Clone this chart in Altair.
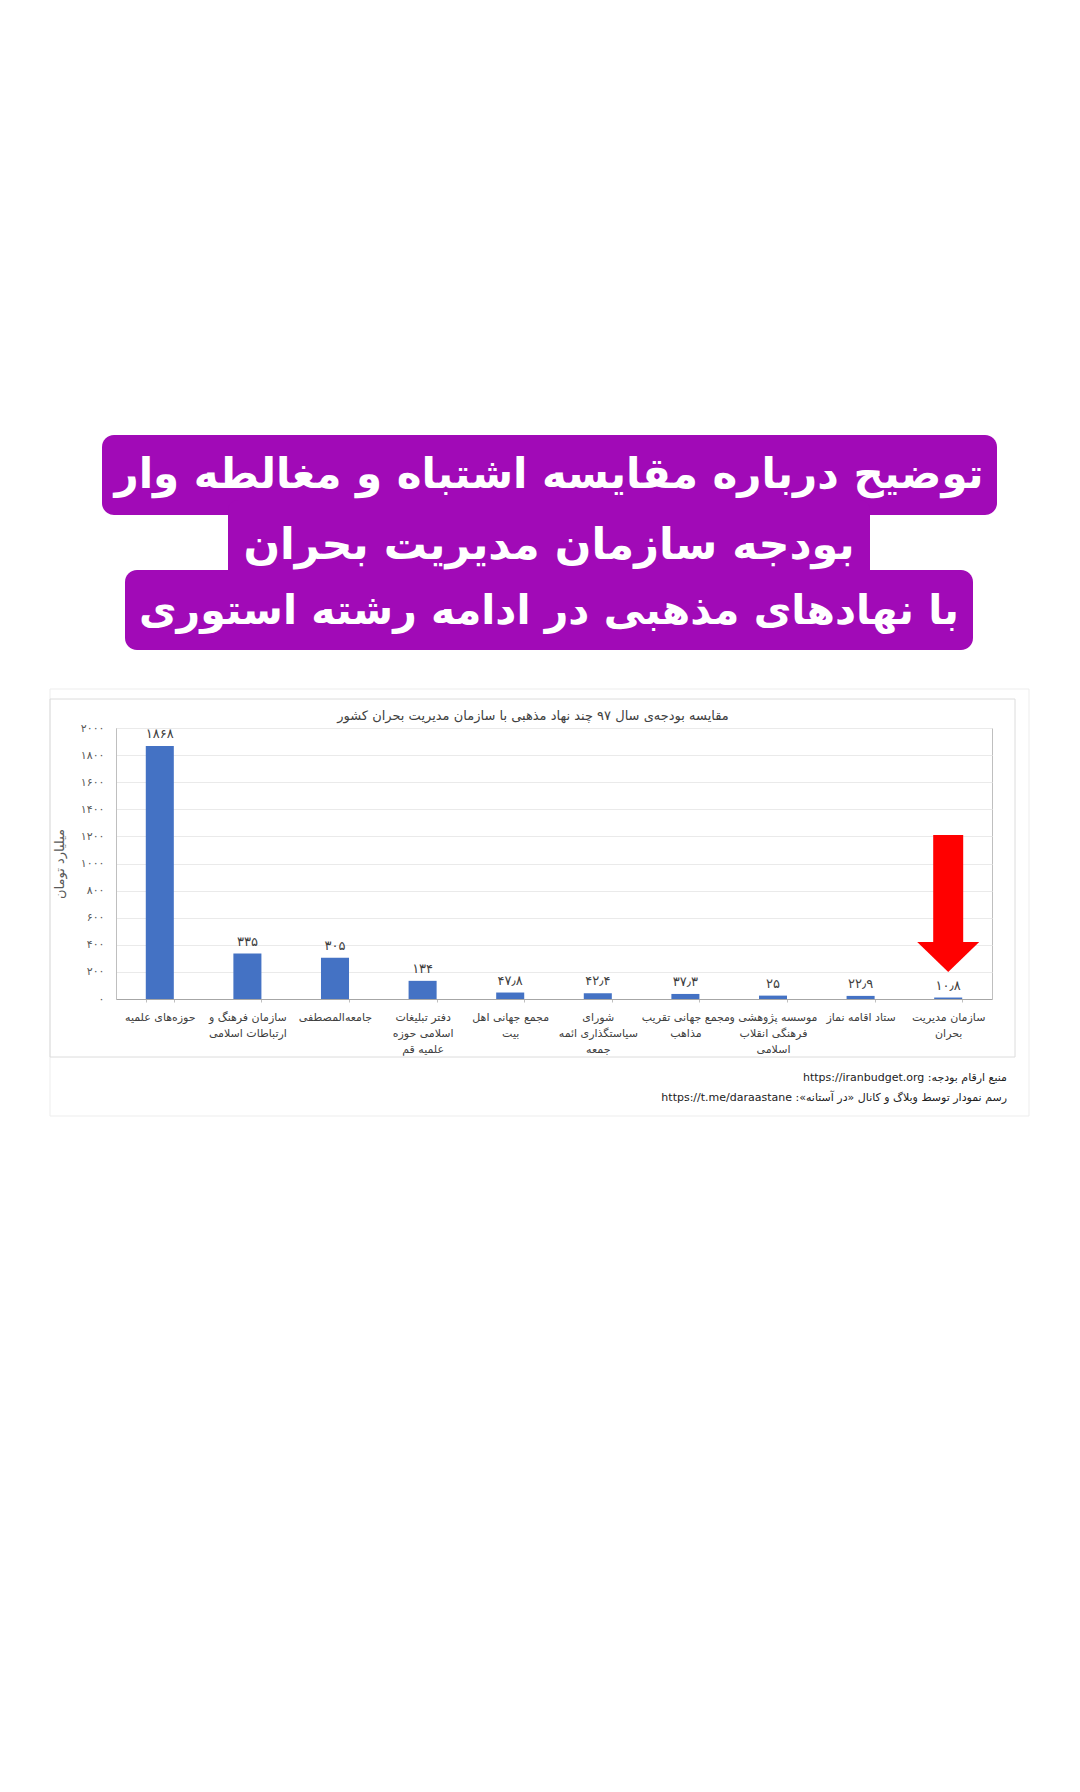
import json
import altair as alt
import pandas as pd

# ---------------- data ----------------
categories = [
    "حوزه‌های علمیه",
    "سازمان فرهنگ و|ارتباطات اسلامی",
    "جامعه‌المصطفی",
    "دفتر تبلیغات|اسلامی حوزه|علمیه قم",
    "مجمع جهانی اهل|بیت",
    "شورای|سیاستگذاری ائمه|جمعه",
    "مجمع جهانی تقریب|مذاهب",
    "موسسه پژوهشی و|فرهنگی انقلاب|اسلامی",
    "ستاد اقامه نماز",
    "سازمان مدیریت|بحران",
]
budgets = [1868, 335, 305, 134, 47.8, 42.4, 37.3, 25, 22.9, 10.8]
budget_labels = ["۱۸۶۸", "۳۳۵", "۳۰۵", "۱۳۴", "۴۷٫۸", "۴۲٫۴", "۳۷٫۳", "۲۵", "۲۲٫۹", "۱۰٫۸"]

y_tick_values = [0, 200, 400, 600, 800, 1000, 1200, 1400, 1600, 1800, 2000]
y_tick_labels = ["۰", "۲۰۰", "۴۰۰", "۶۰۰", "۸۰۰", "۱۰۰۰", "۱۲۰۰", "۱۴۰۰", "۱۶۰۰", "۱۸۰۰", "۲۰۰۰"]

chart_title = "مقایسه بودجه‌ی سال ۹۷ چند نهاد مذهبی با سازمان مدیریت بحران کشور"
y_title = "میلیارد تومان"

banner_lines = [
    "توضیح درباره مقایسه اشتباه و مغالطه وار",
    "بودجه سازمان مدیریت بحران",
    "با نهادهای مذهبی در ادامه رشته استوری",
]
source_lines = [
    "منبع ارقام بودجه:   https://iranbudget.org",
    "رسم نمودار توسط وبلاگ و کانال «در آستانه»:   https://t.me/daraastane",
]

# arrow annotation (data units)
arrow_category = categories[-1]
arrow_start = [1210]
arrow_head_base = [420]
arrow_tip = [200]

# ---------------- styles ----------------
FONT = "DejaVu Sans"
TXT = "#404040"
PURPLE = "#A10AB7"
BLUE = "#4472C4"

W, H = 876, 271
PAD = {"left": 116, "top": 728, "right": 88, "bottom": 793}

df = pd.DataFrame({"cat": categories, "budget": budgets, "label": budget_labels})
one = pd.DataFrame({"d": [0]})

label_map = json.dumps(y_tick_labels, ensure_ascii=False)

x_scale = alt.Scale(domain=categories, paddingInner=0.68, paddingOuter=0.34)
x_axis = alt.Axis(
    title=None,
    labelExpr="split(datum.label, '|')",
    labelAngle=0,
    labelFont=FONT,
    labelFontSize=11,
    labelColor=TXT,
    labelLineHeight=16,
    labelPadding=9,
    labelLimit=300,
    labelOverlap=False,
    ticks=True,
    tickBand="extent",
    tickSize=3,
    tickColor="#BFBFBF",
    domainColor="#A6A6A6",
    grid=False,
)
y_scale = alt.Scale(domain=[0, 2000], nice=False)
y_axis = alt.Axis(
    title=y_title,
    titleFont=FONT,
    titleFontSize=13,
    titleFontWeight="normal",
    titleColor="#595959",
    titlePadding=14,
    values=y_tick_values,
    tickCount=len(y_tick_values),
    labelExpr=f"{label_map}[round(datum.value / 200)]",
    labelFont=FONT,
    labelFontSize=11,
    labelColor="#595959",
    labelPadding=12,
    labelOverlap=False,
    ticks=False,
    domainColor="#BFBFBF",
    gridColor="#EAEAEA",
    grid=True,
)


def X():
    return alt.X("cat:N", sort=categories, scale=x_scale, axis=x_axis)


def Y(field):
    return alt.Y(field, scale=y_scale, axis=y_axis)


base = alt.Chart(df)

bars = base.mark_bar(color=BLUE).encode(x=X(), y=Y("budget:Q"))
values_txt = base.mark_text(
    dy=-5, baseline="bottom", font=FONT, fontSize=13, color=TXT
).encode(x=X(), y=Y("budget:Q"), text="label:N")

arrow_df = pd.DataFrame(
    {
        "cat": [arrow_category],
        "a0": arrow_start,
        "a1": arrow_head_base,
        "a2": arrow_tip,
    }
)
arrow_shaft = alt.Chart(arrow_df).mark_rule(color="#FF0000", strokeWidth=30).encode(
    x=X(), y=Y("a0:Q"), y2="a1:Q"
)
arrow_head = alt.Chart(arrow_df).transform_calculate(
    mid="(datum.a1 + datum.a2) / 2"
).mark_point(
    shape="M-1,-0.48L1,-0.48L0,0.48Z",
    size=3844,
    filled=True,
    opacity=1,
    color="#FF0000",
    strokeWidth=0,
).encode(x=X(), y=Y("mid:Q"))


def box(x0, x1, y0, y1, **kw):
    return alt.Chart(one).mark_rect(**kw).encode(
        x=alt.value(x0 - PAD["left"]),
        x2=alt.value(x1 - PAD["left"]),
        y=alt.value(y0 - PAD["top"]),
        y2=alt.value(y1 - PAD["top"]),
    )


def text_at(t, px, py, **kw):
    return alt.Chart(one).mark_text(**kw).encode(
        x=alt.value(px - PAD["left"]),
        y=alt.value(py - PAD["top"]),
        text=alt.value(t),
    )


outer = box(50, 1029, 689, 1116, fillOpacity=0, stroke="#EDEDED", strokeWidth=1)
card = box(50, 1015, 699, 1057, fillOpacity=0, stroke="#DCDCDC", strokeWidth=1)

b1 = box(102, 997, 435, 515, color=PURPLE, cornerRadius=12)
b2 = box(228, 870, 500, 585, color=PURPLE, cornerRadius=10)
b3 = box(125, 973, 570, 650, color=PURPLE, cornerRadius=12)

banner_y = [475, 546, 612]
banner_sizes = [42, 43, 41]
banner = [
    text_at(t, 549, yy, font=FONT, fontSize=fs, fontWeight="bold", color="white",
            align="center", baseline="middle")
    for t, yy, fs in zip(banner_lines, banner_y, banner_sizes)
]

title_txt = text_at(chart_title, 533, 716, font=FONT, fontSize=13, color=TXT,
                    align="center", baseline="middle")

src = [
    text_at("\u202b" + t + "\u202c", 1007, yy, font=FONT, fontSize=11, color="#222222",
            align="right", baseline="middle")
    for t, yy in zip(source_lines, [1078, 1098])
]

chart = alt.layer(
    outer, card, b1, b2, b3, *banner, title_txt, *src,
    bars, values_txt, arrow_shaft, arrow_head,
).properties(
    width=W,
    height=H,
    autosize=alt.AutoSizeParams(type="none"),
    padding=PAD,
    background="white",
).configure_view(stroke="#BFBFBF", strokeWidth=1)

chart.save("out.html", embed_options={"renderer": "svg", "actions": False})
